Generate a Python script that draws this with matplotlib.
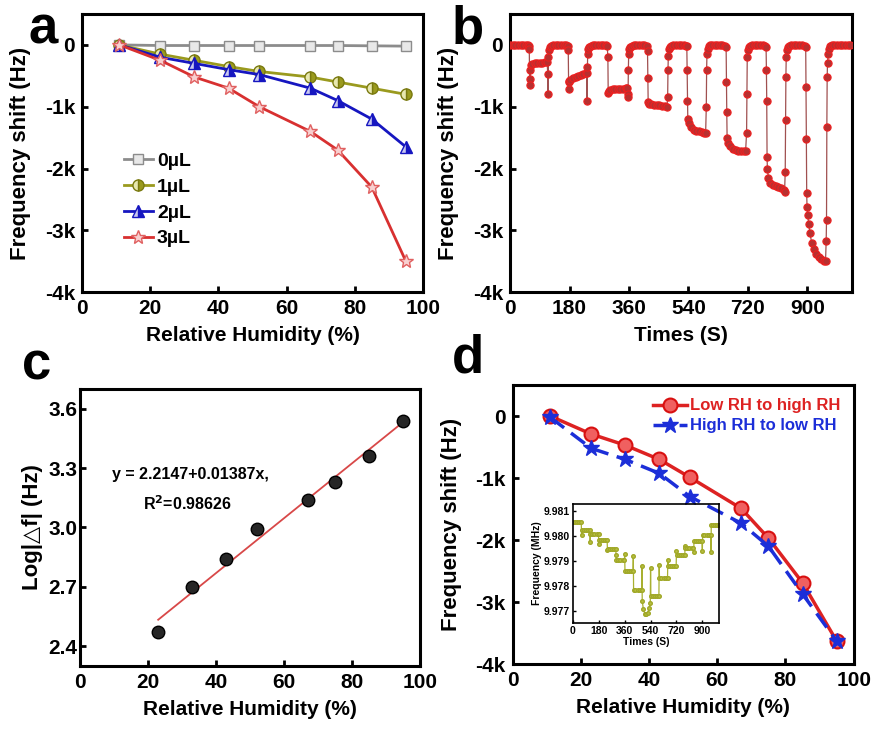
import matplotlib
matplotlib.use('Agg')
import matplotlib.pyplot as plt
from matplotlib.ticker import FuncFormatter

plt.rcParams['font.family'] = ['Liberation Sans', 'DejaVu Sans']
plt.rcParams['font.weight'] = 'bold'
plt.rcParams['axes.labelweight'] = 'bold'

# ---- panel a: shift vs RH for different drop volumes
rh = [11, 23, 33, 43, 52, 67, 75, 85, 95]
shift_0ul = [0, -10, -10, -10, -10, -10, -10, -15, -20]
shift_1ul = [0, -150, -250, -350, -430, -520, -600, -700, -800]
shift_2ul = [0, -200, -300, -400, -480, -700, -900, -1200, -1650]
shift_3ul = [0, -250, -520, -700, -1000, -1400, -1700, -2300, -3500]

# ---- panel b: dynamic response (s, Hz)
times_b = [
    0, 8, 16, 24, 32, 40, 48, 54, 57,
    58, 59, 60, 61, 62, 66, 74, 82, 90, 98, 106, 112, 114, 115, 116, 118, 121, 125,
    130, 138, 146, 154, 162, 170, 174,
    176, 177, 178, 179, 182, 190, 198, 206, 214, 222, 230, 232, 233, 234, 235, 237, 240, 244,
    250, 258, 266, 274, 282, 290, 294,
    296, 297, 298, 302, 310, 318, 326, 334, 342, 350, 354, 356, 357, 358, 359, 361, 364, 368,
    374, 382, 390, 398, 406, 414,
    416, 417, 418, 421, 428, 436, 444, 452, 460, 468, 475, 477, 478, 479, 481, 484, 488,
    494, 502, 510, 518, 526, 533,
    535, 536, 537, 538, 541, 548, 556, 564, 572, 580, 588, 592, 594, 595, 596, 598, 601, 605,
    611, 619, 627, 635, 643, 651,
    654, 655, 656, 657, 660, 667, 675, 683, 691, 699, 707, 713, 716, 717, 718, 720, 723, 727,
    733, 741, 749, 757, 765, 772,
    775, 776, 777, 778, 779, 782, 788, 796, 804, 812, 820, 828, 831, 833, 834, 835, 836, 838, 841, 845,
    851, 859, 867, 875, 883, 892,
    895, 896, 897, 898, 899, 901, 904, 908, 913, 919, 926, 934, 942, 950, 955, 957, 958, 959, 960, 961,
    963, 966, 970, 976,
    982, 990, 998, 1006, 1014, 1022, 1030,
]
shift_b = [
    0, 0, 0, 0, 0, 0, 0, 0, -10,
    -60, -550, -650, -400, -330, -310, -300, -300, -290, -290, -280, -270, -470, -800, -200, -90, -40, -10,
    0, 0, 0, 0, 0, 0, -10,
    -80, -580, -720, -600, -560, -540, -520, -500, -490, -470, -450, -460, -900, -350, -150, -70, -30, -10,
    0, 0, 0, 0, 0, 0, -10,
    -200, -780, -740, -725, -720, -720, -715, -710, -710, -705, -700, -800, -850, -400, -150, -70, -30, -10,
    0, 0, 0, 0, 0, -10,
    -100, -540, -930, -950, -960, -970, -975, -980, -985, -990, -1000, -840, -400, -180, -70, -30, -10,
    0, 0, 0, 0, 0, -10,
    -20, -400, -900, -1200, -1270, -1330, -1370, -1390, -1400, -1410, -1420, -1420, -1000, -400, -150, -60, -20, -5,
    0, 0, 0, 0, 0, -10,
    -30, -600, -1090, -1500, -1580, -1640, -1680, -1700, -1710, -1715, -1720, -1720, -1420, -790, -200, -80, -30, -10,
    0, 0, 0, 0, 0, -10,
    -30, -400, -900, -1820, -2000, -2150, -2230, -2270, -2290, -2300, -2320, -2350, -2380, -2050, -1220, -520,
    -200, -80, -30, -10,
    0, 0, 0, 0, 0, -10,
    -30, -680, -1530, -2400, -2620, -2750, -2900, -3050, -3200, -3300, -3380, -3430, -3470, -3500, -3500, -3170,
    -2840, -1330, -520, -300, -150, -60, -20, -5,
    0, 0, 0, 0, 0, 0, 0,
]

# ---- panel c: log fit
rh_c = [23, 33, 43, 52, 67, 75, 85, 95]
log_df = [2.47, 2.70, 2.84, 2.99, 3.14, 3.23, 3.36, 3.54]
fit_a, fit_b = 2.2147, 0.01387
fit_x = [23, 95]

# ---- panel d: hysteresis
shift_up = [0, -290, -470, -700, -990, -1490, -1970, -2690, -3630]
shift_down = [-20, -520, -700, -925, -1300, -1730, -2100, -2870, -3630]

# ---- inset: raw frequency (MHz)
times_in = [
    0, 15, 30, 45, 58, 60,
    62, 75, 90, 105, 118, 120,
    122, 135, 150, 165, 178, 180,
    182, 195, 210, 225, 238, 240,
    242, 255, 270, 285, 298, 300,
    302, 315, 330, 345, 358, 360,
    362, 375, 390, 405, 418, 420,
    422, 435, 450, 465, 478, 480,
    482, 490, 500, 510, 520, 530, 538, 540,
    542, 555, 570, 585, 598, 600,
    602, 615, 630, 645, 658, 660,
    662, 675, 690, 705, 718, 720,
    722, 735, 750, 765, 778, 780,
    782, 795, 810, 825, 838, 840,
    842, 855, 870, 885, 898, 900,
    902, 915, 930, 945, 958, 960,
    962, 975, 990, 1005, 1015,
]
freq_in = [
    9.98058, 9.98058, 9.98058, 9.98058, 9.98058, 9.98004,
    9.98025, 9.98025, 9.98025, 9.98025, 9.98025, 9.97976,
    9.98008, 9.98008, 9.98008, 9.98008, 9.98008, 9.97969,
    9.97985, 9.97985, 9.97985, 9.97985, 9.97985, 9.97945,
    9.97950, 9.97950, 9.97950, 9.97950, 9.97950, 9.97925,
    9.97903, 9.97903, 9.97903, 9.97903, 9.97903, 9.97930,
    9.97860, 9.97860, 9.97860, 9.97860, 9.97860, 9.97920,
    9.97783, 9.97783, 9.97783, 9.97783, 9.97783, 9.97880,
    9.97740, 9.97705, 9.97688, 9.97685, 9.97692, 9.97710, 9.97730, 9.97870,
    9.97760, 9.97760, 9.97760, 9.97760, 9.97760, 9.97885,
    9.97833, 9.97833, 9.97833, 9.97833, 9.97833, 9.97905,
    9.97880, 9.97880, 9.97880, 9.97880, 9.97880, 9.97940,
    9.97923, 9.97923, 9.97923, 9.97923, 9.97923, 9.97962,
    9.97954, 9.97954, 9.97954, 9.97954, 9.97954, 9.97935,
    9.97980, 9.97980, 9.97980, 9.97980, 9.97980, 9.97940,
    9.98004, 9.98004, 9.98004, 9.98004, 9.98004, 9.97935,
    9.98047, 9.98047, 9.98047, 9.98047, 9.98047,
]

k_ticks = [-4000, -3000, -2000, -1000, 0]


def k_fmt(v, pos):
    if v == 0:
        return '0'
    return '%dk' % (v / 1000)


def style(ax, size=15, lw=2.2):
    for s in ax.spines.values():
        s.set_linewidth(lw)
    ax.tick_params(direction='in', width=2, length=4, labelsize=size, pad=5)


def k_axis(ax):
    ax.set_ylim(-4000, 500)
    ax.set_yticks(k_ticks)
    ax.yaxis.set_major_formatter(FuncFormatter(k_fmt))
    ax.tick_params(axis='y', pad=2)


fig = plt.figure(figsize=(8.72, 7.36), dpi=100)

# panel a
ax = fig.add_axes([0.094, 0.603, 0.391, 0.378])
ax.plot(rh, shift_0ul, '-s', color='#8c8c8c', lw=2, ms=7, mfc='#e8e8e8', mec='#8c8c8c', label='0µL')
ax.plot(rh, shift_1ul, '-o', color='#9a9a1e', lw=2, ms=8, fillstyle='right', mfc='#9a9a1e',
        mfcalt='#e8e8b0', mec='#7a7a10', label='1µL')
ax.plot(rh, shift_2ul, '-^', color='#1616c0', lw=2, ms=8, fillstyle='right', mfc='#1616c0',
        mfcalt='#c8c8f0', mec='#1616c0', label='2µL')
ax.plot(rh, shift_3ul, '-*', color='#d83030', lw=2, ms=10, mfc='#f8d0d0', mec='#e06060', label='3µL')
ax.set_xlim(0, 100)
ax.set_xticks([0, 20, 40, 60, 80, 100])
k_axis(ax)
style(ax)
ax.set_xlabel('Relative Humidity (%)', fontsize=15, labelpad=6)
ax.set_ylabel('Frequency shift (Hz)', fontsize=16, labelpad=10)
ax.legend(loc='upper left', bbox_to_anchor=(0.10, 0.53), frameon=False, fontsize=14,
          handlelength=1.5, handletextpad=0.2, labelspacing=0.42, borderaxespad=0)

# panel b
ax = fig.add_axes([0.585, 0.603, 0.392, 0.378])
ax.plot(times_b, shift_b, '-', color='#a05050', lw=0.9, zorder=2)
ax.plot(times_b, shift_b, 'o', ms=5.2, mfc='#b83030', mec='#ee2020', mew=0.8, zorder=3)
ax.set_xlim(0, 1035)
ax.set_xticks([0, 180, 360, 540, 720, 900])
k_axis(ax)
style(ax)
ax.set_xlabel('Times (S)', fontsize=15, labelpad=6)
ax.set_ylabel('Frequency shift (Hz)', fontsize=16, labelpad=10)

# panel c
ax = fig.add_axes([0.0917, 0.0951, 0.390, 0.3764])
ax.plot(fit_x, [fit_a + fit_b * x for x in fit_x], '-', color='#d84848', lw=1.3, zorder=2)
ax.plot(rh_c, log_df, 'o', ms=9, mfc='#262626', mec='#000000', mew=1, zorder=3)
ax.set_xlim(0, 100)
ax.set_ylim(2.3, 3.7)
ax.set_xticks([0, 20, 40, 60, 80, 100])
ax.set_yticks([2.4, 2.7, 3.0, 3.3, 3.6])
ax.yaxis.set_major_formatter(FuncFormatter(lambda v, p: '%.1f' % v))
style(ax)
ax.tick_params(axis='y', pad=2)
ax.set_xlabel('Relative Humidity (%)', fontsize=15, labelpad=6)
ax.set_ylabel('Log|△f| (Hz)', fontsize=16, labelpad=4)
ax.text(9.5, 3.27, 'y = 2.2147+0.01387x,', fontsize=11.5, va='center')
ax.text(18.5, 3.12, 'R$^\\mathbf{2}$=0.98626', fontsize=11.5, va='center')

# panel d
ax = fig.add_axes([0.588, 0.0978, 0.391, 0.379])
ax.plot(rh, shift_up, '-o', color='#dd2222', lw=2.5, ms=10, mfc='#f06060', mec='#d81010',
        mew=1.5, label='Low RH to high RH', zorder=3)
ax.plot(rh, shift_down, '--*', color='#1c2ed8', lw=2.5, ms=12, dashes=(5, 2.5),
        mfc='#1c2ed8', mec='#1c2ed8', label='High RH to low RH', zorder=4)
ax.set_xlim(0, 100)
ax.set_xticks([0, 20, 40, 60, 80, 100])
k_axis(ax)
style(ax)
ax.set_xlabel('Relative Humidity (%)', fontsize=15, labelpad=6)
ax.set_ylabel('Frequency shift (Hz)', fontsize=16, labelpad=10)
leg = ax.legend(loc='upper right', frameon=False, fontsize=12, handlelength=2.0,
                handletextpad=0.2, labelspacing=0.3, borderaxespad=0.4)
leg.get_texts()[0].set_color('#dd2222')
leg.get_texts()[1].set_color('#1c2ed8')

# inset in d
axi = fig.add_axes([0.657, 0.1535, 0.1674, 0.1617])
axi.patch.set_alpha(0)
axi.plot(times_in, freq_in, '-o', color='#a8b030', lw=0.9, ms=2.6, mfc='#b8c040', mec='#a0a828')
axi.set_xlim(0, 1015)
axi.set_ylim(9.9765, 9.9813)
axi.set_xticks([0, 180, 360, 540, 720, 900])
axi.set_yticks([9.977, 9.978, 9.979, 9.980, 9.981])
axi.yaxis.set_major_formatter(FuncFormatter(lambda v, p: '%.3f' % v))
for s in axi.spines.values():
    s.set_linewidth(1.2)
axi.tick_params(direction='in', width=1, length=2, labelsize=7.5, pad=2)
axi.set_xlabel('Times (S)', fontsize=7.5, labelpad=1)
axi.set_ylabel('Frequency (MHz)', fontsize=7.5, labelpad=1)

# panel letters
for x, y, s in [(28, 43, 'a'), (452, 43, 'b'), (22, 380, 'c'), (452, 373, 'd')]:
    fig.text(x / 872, 1 - y / 736, s, fontsize=38, fontweight='bold', va='baseline', ha='left')

fig.savefig('out.png', dpi=100)
